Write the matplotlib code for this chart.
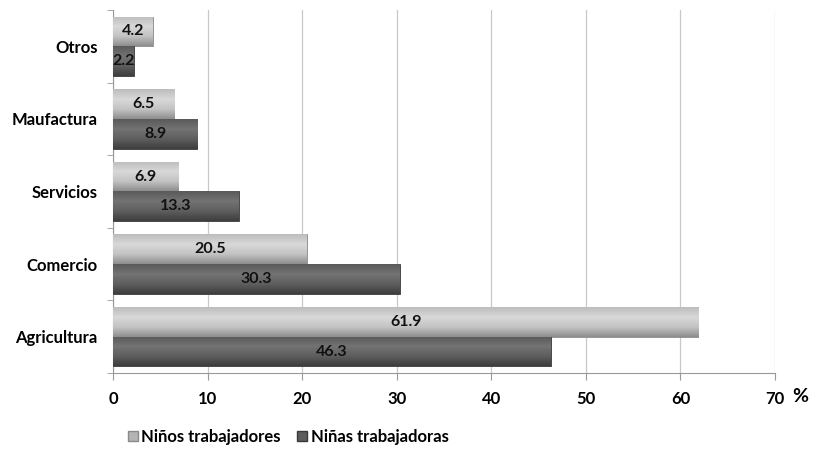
import numpy as np
import matplotlib.pyplot as plt
from matplotlib.colors import LinearSegmentedColormap

plt.rcParams['font.family'] = ['Lato', 'DejaVu Sans']
plt.rcParams['font.weight'] = 'bold'

categorias = ["Agricultura", "Comercio", "Servicios", "Maufactura", "Otros"]
ninos = [61.9, 20.5, 6.9, 6.5, 4.2]
ninas = [46.3, 30.3, 13.3, 8.9, 2.2]
serie_labels = ["Niños trabajadores", "Niñas trabajadoras"]

fig = plt.figure(figsize=(8.17, 4.49), dpi=100)
ax = fig.add_axes([0.1383, 0.1693, 0.8103, 0.8084])

y = np.arange(len(categorias))
h = 0.41

bars_ninos = ax.barh(y + h / 2, ninos, height=h, color="#b4b4b4", edgecolor="#8a8a8a",
                     linewidth=0.6, label=serie_labels[0], zorder=3)
bars_ninas = ax.barh(y - h / 2, ninas, height=h, color="#5c5c5c", edgecolor="#3a3a3a",
                     linewidth=0.6, label=serie_labels[1], zorder=3)

# vertical gradient over each bar, clipped to the bar shape
cm_light = LinearSegmentedColormap.from_list("light", ["#8e8e8e", "#c4c4c4", "#d8d8d8", "#bdbdbd"])
cm_dark = LinearSegmentedColormap.from_list("dark", ["#3e3e3e", "#5e5e5e", "#737373", "#5a5a5a"])
grad = np.linspace(0, 1, 64).reshape(-1, 1)
for bars, cm in [(bars_ninos, cm_light), (bars_ninas, cm_dark)]:
    for b in bars:
        x0, y0 = b.get_x(), b.get_y()
        im = ax.imshow(grad, extent=[x0, x0 + b.get_width(), y0, y0 + b.get_height()],
                       origin="lower", cmap=cm, aspect="auto", zorder=3.5)
        im.set_clip_path(b)

for bars, vals in [(bars_ninos, ninos), (bars_ninas, ninas)]:
    for b, v in zip(bars, vals):
        ax.text(b.get_width() / 2, b.get_y() + b.get_height() / 2, f"{v:.1f}",
                ha="center", va="center", fontsize=11.5, fontweight="bold",
                color="#111111", zorder=5)

ax.set_xlim(0, 70)
ax.set_ylim(-0.5, len(categorias) - 0.5)
ax.set_xticks(np.arange(0, 71, 10))
ax.set_yticks(y)
ax.set_yticklabels(categorias, fontsize=12, fontweight="bold")
ax.set_yticks(np.arange(-0.5, len(categorias)), minor=True)
ax.tick_params(axis="y", which="major", length=0, pad=11)
ax.tick_params(axis="y", which="minor", length=4, color="#999999")
ax.tick_params(axis="x", length=5, color="#999999", labelsize=12, pad=8)
for lab in ax.get_xticklabels():
    lab.set_fontweight("bold")

ax.grid(axis="x", color="#c8c8c8", linewidth=0.9, zorder=0)
for s in ["top", "right"]:
    ax.spines[s].set_visible(False)
ax.spines["left"].set_color("#999999")
ax.spines["bottom"].set_color("#999999")

fig.text(0.98, 0.117, "%", fontsize=14, fontweight="bold", ha="center", va="center")

handles = [plt.Rectangle((0, 0), 1, 1, facecolor="#b4b4b4", edgecolor="#8a8a8a"),
           plt.Rectangle((0, 0), 1, 1, facecolor="#5c5c5c", edgecolor="#3a3a3a")]
fig.legend(handles, serie_labels, loc="center left", bbox_to_anchor=(0.138, 0.027),
           ncol=2, frameon=False, fontsize=12, handlelength=0.6, handleheight=0.6,
           handletextpad=0.2, columnspacing=1.0)

fig.savefig("out.png", dpi=100)
